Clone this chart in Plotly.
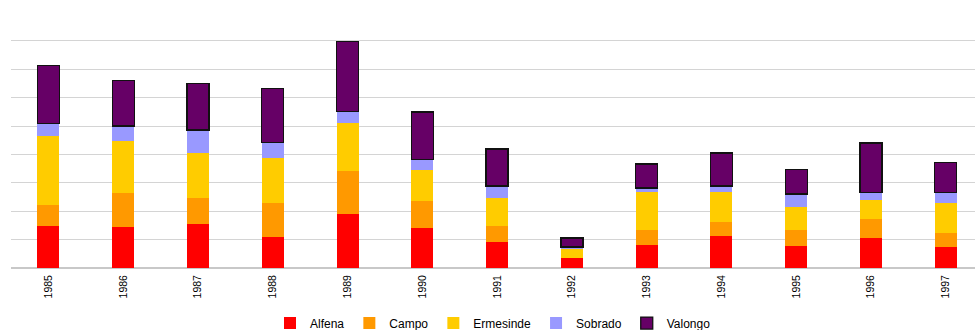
import plotly.graph_objects as go

years = ["1985", "1986", "1987", "1988", "1989", "1990", "1991",
         "1992", "1993", "1994", "1995", "1996", "1997"]

alfena = [14.7, 14.4, 15.4, 10.8, 19.0, 14.0, 9.1, 3.4, 8.0, 11.2, 7.7, 10.5, 7.3]
campo = [7.4, 12.0, 9.2, 12.0, 15.1, 9.5, 5.6, 0.0, 5.3, 4.9, 5.6, 6.7, 4.9]
ermesinde = [24.4, 18.3, 15.9, 15.9, 17.0, 11.0, 9.9, 3.5, 13.4, 10.6, 8.1, 6.7, 10.6]
sobrado = [4.5, 5.3, 8.1, 5.6, 4.0, 3.8, 4.3, 0.5, 1.5, 2.2, 4.7, 2.6, 3.7]
valongo = [20.3, 16.0, 16.3, 18.9, 24.8, 16.7, 13.0, 3.2, 8.4, 11.6, 8.6, 17.5, 10.7]

series = [
    ("Alfena", alfena, "#FF0000", None),
    ("Campo", campo, "#FF9900", None),
    ("Ermesinde", ermesinde, "#FFCC00", None),
    ("Sobrado", sobrado, "#9999FF", None),
    ("Valongo", valongo, "#660066", "#111111"),
]

fig = go.Figure()
for name, vals, color, edge in series:
    marker = dict(color=color)
    if edge:
        marker["line"] = dict(color=edge, width=1.3)
    else:
        marker["line"] = dict(width=0)
    fig.add_trace(go.Bar(name=name, x=years, y=vals, marker=marker))

fig.update_layout(
    barmode="stack",
    bargap=0.706,
    width=975,
    height=330,
    margin=dict(l=11, r=0, t=12, b=62, autoexpand=False),
    paper_bgcolor="white",
    plot_bgcolor="white",
    font=dict(family="Liberation Sans, Arial, sans-serif", size=12, color="#000000"),
    showlegend=True,
    legend=dict(
        orientation="h",
        x=0.5, xanchor="center",
        y=-0.215, yanchor="middle",
        font=dict(size=12),
        traceorder="normal",
        itemwidth=30,
    ),
    xaxis=dict(
        type="category",
        range=[-0.5, 12.39],
        tickangle=-90,
        tickfont=dict(size=10.5),
        ticklabelstandoff=4,
        showgrid=False,
        showline=False,
        ticks="",
        automargin=False,
    ),
    yaxis=dict(
        range=[0, 90.2],
        dtick=10,
        showticklabels=False,
        showgrid=True,
        gridcolor="#d4d4d4",
        gridwidth=1,
        zeroline=True,
        zerolinecolor="#c8c8c8",
        zerolinewidth=1.5,
        ticks="",
        automargin=False,
    ),
)

fig.write_html("out.html")
